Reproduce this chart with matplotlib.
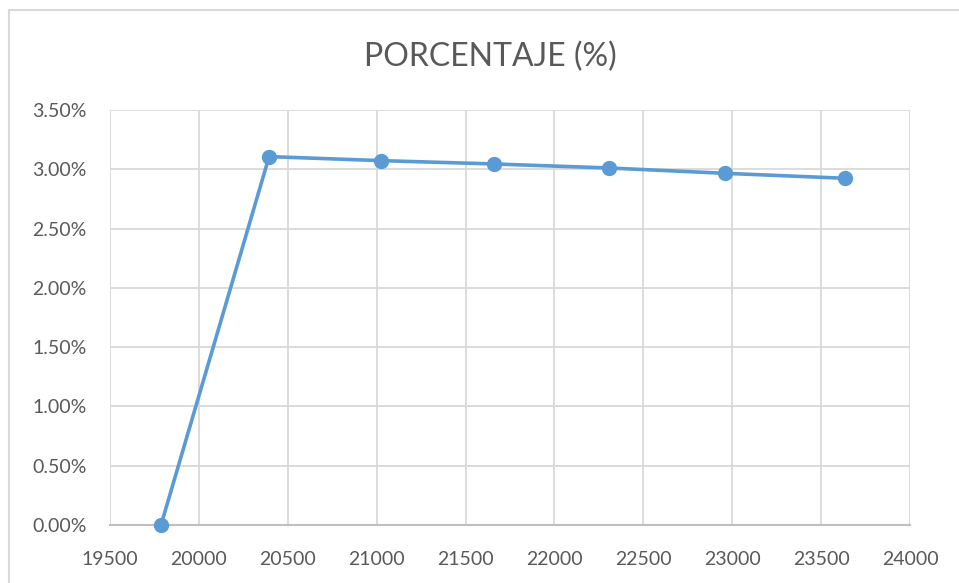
import matplotlib.pyplot as plt
from matplotlib.patches import Rectangle
from matplotlib.ticker import PercentFormatter, MultipleLocator

# values
x_vals = [19787, 20395, 21023, 21658, 22307, 22959, 23637]
pct_vals = [0.0, 3.107, 3.073, 3.045, 3.011, 2.966, 2.924]

title = "PORCENTAJE (%)"
line_color = "#5B9BD5"
text_color = "#595959"
grid_color = "#D9D9D9"

plt.rcParams['font.family'] = ['Lato', 'DejaVu Sans']

fig = plt.figure(figsize=(9.59, 5.83), dpi=100)
ax = fig.add_axes([110/959, 1 - 525/583, 800/959, 415/583])

# outer chart border
fig.patches.append(Rectangle((9/959, -0.05), 1.2, 1 - 10/583 + 0.05, transform=fig.transFigure,
                             fill=False, edgecolor=grid_color, linewidth=1.5))

ax.plot(x_vals, pct_vals, color=line_color, linewidth=2.6, marker='o', markersize=10,
        markerfacecolor=line_color, markeredgecolor=line_color, zorder=3, clip_on=False)

ax.set_xlim(19500, 24000)
ax.set_ylim(0, 3.5)
ax.xaxis.set_major_locator(MultipleLocator(500))
ax.yaxis.set_major_locator(MultipleLocator(0.5))
ax.yaxis.set_major_formatter(PercentFormatter(decimals=2))

ax.grid(True, color=grid_color, linewidth=1.3)
ax.set_axisbelow(True)
for s in ['top', 'right', 'left']:
    ax.spines[s].set_visible(False)
ax.spines['bottom'].set_color('#BFBFBF')
ax.spines['bottom'].set_linewidth(1.5)

ax.tick_params(axis='both', length=0, labelsize=14, colors=text_color)
ax.tick_params(axis='x', pad=19)
ax.tick_params(axis='y', pad=17)

fig.text(490/959, 1 - 57/583, title, ha='center', va='center',
         fontsize=23, color=text_color)

fig.savefig('out.png', dpi=100)
